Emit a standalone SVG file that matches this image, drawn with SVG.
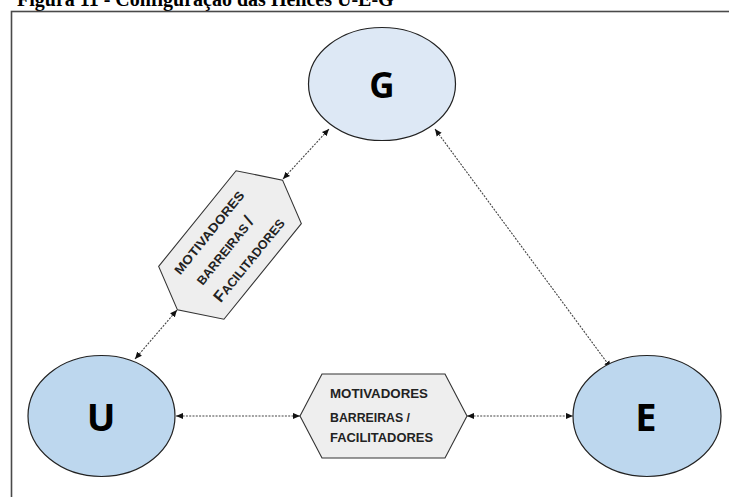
<svg xmlns="http://www.w3.org/2000/svg" width="729" height="497" viewBox="0 0 729 497">
  <style>
    .title { font-family: "Liberation Serif", "Times New Roman", serif; font-weight: bold; font-size: 20px; fill: #000; }
    .frame { fill: none; stroke: #4a4a4a; stroke-width: 1.6; }
    .helix { stroke: #222; stroke-width: 1.2; }
    .light { fill: #dde8f5; }
    .mid { fill: #bdd7ee; }
    .letter { font-family: "Open Sans", "Liberation Sans", sans-serif; font-weight: bold; fill: #000; text-anchor: middle; }
    .hex { fill: #eeeeee; stroke: #333; stroke-width: 1.1; }
    .lbl { font-family: "Liberation Sans", Arial, sans-serif; font-weight: bold; font-size: 12.5px; fill: #222; }
    .link { fill: none; stroke: #444; stroke-width: 1.1; stroke-dasharray: 2 1.3; }
  </style>
  <defs>
    <marker id="tip" viewBox="0 0 8 8" refX="8" refY="4" markerWidth="7" markerHeight="7" markerUnits="userSpaceOnUse" orient="auto-start-reverse">
      <path d="M0,0.5 L8,4 L0,7.5 Z" fill="#111"/>
    </marker>
    <polygon id="hexShape" points="-83.5,0 -61.5,-42 61.5,-42 83.5,0 61.5,42 -61.5,42"/>
  </defs>

  <rect width="729" height="497" fill="#fff"/>
  <text class="title" x="17" y="6">Figura 11 - Configuração das Hélices U-E-G</text>
  <rect class="frame" x="11.5" y="11.5" width="760" height="520"/>

  <g id="connectors">
    <line class="link" x1="283" y1="179" x2="329" y2="129" marker-start="url(#tip)" marker-end="url(#tip)"/>
    <line class="link" x1="177" y1="310" x2="135" y2="359" marker-start="url(#tip)" marker-end="url(#tip)"/>
    <line class="link" x1="176" y1="416" x2="300" y2="416" marker-start="url(#tip)" marker-end="url(#tip)"/>
    <line class="link" x1="467" y1="416" x2="573" y2="416" marker-start="url(#tip)" marker-end="url(#tip)"/>
    <line class="link" x1="435" y1="129" x2="611" y2="368" marker-start="url(#tip)" marker-end="url(#tip)"/>
  </g>

  <g id="node-G">
    <ellipse class="helix light" cx="382" cy="84" rx="73.5" ry="56.5"/>
    <text class="letter" x="382" y="98" font-size="35">G</text>
  </g>

  <g id="node-U">
    <ellipse class="helix mid" cx="101.5" cy="416" rx="73.5" ry="60.5"/>
    <text class="letter" x="101" y="431" font-size="38">U</text>
  </g>

  <g id="node-E">
    <ellipse class="helix mid" cx="647" cy="416" rx="74" ry="60.5"/>
    <text class="letter" x="646" y="431" font-size="38">E</text>
  </g>

  <g id="node-factors-UG" transform="translate(230,245) rotate(-51)">
    <use href="#hexShape" class="hex"/>
    <text class="lbl" x="-55" y="-19.5" textLength="103" lengthAdjust="spacingAndGlyphs">MOTIVADORES</text>
    <text class="lbl" x="-49" y="4.5">BARREIRAS <tspan font-size="17">/</tspan></text>
    <text class="lbl" x="-51" y="29.5"><tspan font-size="16">F</tspan>ACILITADORES</text>
  </g>

  <g id="node-factors-UE" transform="translate(383.5,416)">
    <use href="#hexShape" class="hex"/>
    <text class="lbl" x="-53.5" y="-18" textLength="98" lengthAdjust="spacingAndGlyphs">MOTIVADORES</text>
    <text class="lbl" x="-53.5" y="6" textLength="80" lengthAdjust="spacingAndGlyphs">BARREIRAS /</text>
    <text class="lbl" x="-53.5" y="26" textLength="103" lengthAdjust="spacingAndGlyphs">FACILITADORES</text>
  </g>
</svg>
